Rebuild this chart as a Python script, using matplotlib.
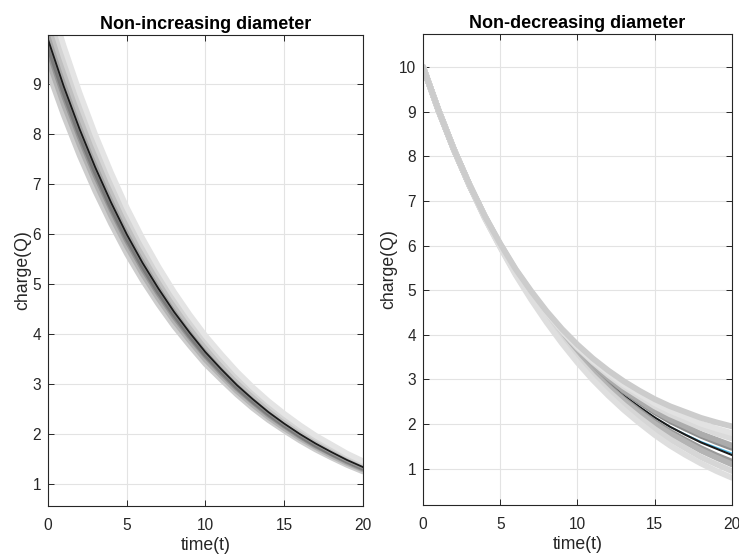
import matplotlib
matplotlib.use("Agg")
import matplotlib.pyplot as plt

plt.rcParams['font.family'] = ['Liberation Sans', 'DejaVu Sans']

t = list(range(21))

# ---- Left panel: non-increasing diameter ----
left_mean = [9.90, 8.96, 8.11, 7.34, 6.64, 6.00, 5.43, 4.92, 4.45, 4.03, 3.64,
             3.30, 2.98, 2.70, 2.44, 2.21, 2.00, 1.81, 1.64, 1.48, 1.34]
left_runs = [
    [9.26, 8.38, 7.58, 6.86, 6.21, 5.61, 5.08, 4.60, 4.16, 3.77, 3.40, 3.09, 2.79, 2.52, 2.28, 2.07, 1.87, 1.69, 1.53, 1.38, 1.25],
    [9.50, 8.60, 7.79, 7.05, 6.37, 5.76, 5.21, 4.72, 4.27, 3.87, 3.49, 3.17, 2.86, 2.59, 2.34, 2.12, 1.92, 1.74, 1.57, 1.42, 1.29],
    [9.70, 8.78, 7.95, 7.19, 6.51, 5.88, 5.32, 4.82, 4.36, 3.95, 3.57, 3.23, 2.92, 2.65, 2.39, 2.17, 1.96, 1.77, 1.61, 1.45, 1.31],
    [9.80, 8.87, 8.03, 7.27, 6.57, 5.94, 5.38, 4.87, 4.41, 3.99, 3.60, 3.27, 2.95, 2.67, 2.42, 2.19, 1.98, 1.79, 1.62, 1.47, 1.33],
    [10.00, 9.05, 8.19, 7.41, 6.71, 6.06, 5.48, 4.97, 4.49, 4.07, 3.68, 3.33, 3.01, 2.73, 2.46, 2.23, 2.02, 1.83, 1.66, 1.49, 1.35],
    [10.10, 9.14, 8.27, 7.49, 6.77, 6.12, 5.54, 5.02, 4.54, 4.11, 3.71, 3.37, 3.04, 2.75, 2.49, 2.25, 2.04, 1.85, 1.67, 1.51, 1.37],
    [10.30, 9.32, 8.43, 7.63, 6.91, 6.24, 5.65, 5.12, 4.63, 4.19, 3.79, 3.43, 3.10, 2.81, 2.54, 2.30, 2.08, 1.88, 1.71, 1.54, 1.39],
    [10.54, 9.54, 8.64, 7.82, 7.07, 6.39, 5.78, 5.24, 4.74, 4.29, 3.88, 3.51, 3.17, 2.88, 2.60, 2.35, 2.13, 1.93, 1.75, 1.58, 1.43],
    [10.79, 9.77, 8.84, 8.00, 7.24, 6.54, 5.92, 5.36, 4.85, 4.39, 3.97, 3.60, 3.25, 2.94, 2.66, 2.41, 2.18, 1.97, 1.79, 1.61, 1.46],
]
left_colors = ['#cdcdcd', '#b2b2b2', '#949494', '#7a7a7a', '#8e8e8e',
               '#a8a8a8', '#c0c0c0', '#d4d4d4', '#e4e4e4']

# ---- Right panel: non-decreasing diameter ----
right_mean = [10.00, 9.03, 8.15, 7.36, 6.64, 6.00, 5.41, 4.89, 4.41, 3.98, 3.59,
              3.24, 2.93, 2.64, 2.39, 2.15, 1.94, 1.76, 1.59, 1.45, 1.31]
right_runs = [
    [10.00, 9.03, 8.15, 7.36, 6.65, 6.01, 5.42, 4.91, 4.44, 4.03, 3.65, 3.31, 3.02, 2.74, 2.50, 2.27, 2.07, 1.90, 1.74, 1.60, 1.47],
    [10.00, 9.03, 8.15, 7.36, 6.64, 5.99, 5.40, 4.87, 4.38, 3.95, 3.54, 3.18, 2.86, 2.56, 2.30, 2.05, 1.83, 1.64, 1.46, 1.30, 1.16],
    [10.00, 9.03, 8.15, 7.36, 6.65, 6.02, 5.43, 4.92, 4.46, 4.04, 3.66, 3.33, 3.04, 2.76, 2.53, 2.30, 2.11, 1.95, 1.78, 1.65, 1.52],
    [10.00, 9.03, 8.15, 7.36, 6.63, 5.99, 5.39, 4.86, 4.37, 3.92, 3.52, 3.16, 2.83, 2.53, 2.26, 2.01, 1.79, 1.60, 1.41, 1.25, 1.10],
    [10.00, 9.03, 8.15, 7.37, 6.65, 6.02, 5.45, 4.95, 4.49, 4.08, 3.71, 3.39, 3.10, 2.84, 2.62, 2.40, 2.22, 2.07, 1.92, 1.79, 1.68],
    [10.00, 9.03, 8.15, 7.35, 6.62, 5.97, 5.37, 4.83, 4.32, 3.87, 3.46, 3.08, 2.74, 2.43, 2.15, 1.89, 1.66, 1.46, 1.26, 1.10, 0.95],
    [10.00, 9.03, 8.15, 7.37, 6.66, 6.03, 5.46, 4.96, 4.50, 4.10, 3.74, 3.42, 3.15, 2.89, 2.68, 2.47, 2.30, 2.16, 2.01, 1.90, 1.80],
    [10.00, 9.03, 8.15, 7.35, 6.61, 5.96, 5.34, 4.79, 4.28, 3.81, 3.38, 2.99, 2.64, 2.32, 2.03, 1.76, 1.52, 1.31, 1.12, 0.95, 0.80],
    [10.00, 9.03, 8.15, 7.37, 6.66, 6.04, 5.47, 4.98, 4.53, 4.13, 3.78, 3.47, 3.20, 2.96, 2.75, 2.56, 2.40, 2.27, 2.14, 2.04, 1.95],
]
right_colors = ['#8f8f8f', '#999999', '#acacac', '#b4b4b4', '#dadada',
                '#d6d6d6', '#e2e2e2', '#dedede', '#cccccc']
right_extra = [10.00, 9.03, 8.15, 7.36, 6.64, 6.00, 5.41, 4.89, 4.41, 3.98, 3.59,
               3.24, 2.93, 2.64, 2.39, 2.15, 1.94, 1.77, 1.61, 1.48, 1.35]

titles = ['Non-increasing diameter', 'Non-decreasing diameter']
xticks = [0, 5, 10, 15, 20]
left_yticks = [1, 2, 3, 4, 5, 6, 7, 8, 9]
right_yticks = [1, 2, 3, 4, 5, 6, 7, 8, 9, 10]

fig = plt.figure(figsize=(7.39, 5.55), dpi=100)
axL = fig.add_axes([0.065, 0.0883, 0.426, 0.849])
axR = fig.add_axes([0.5724, 0.0901, 0.418, 0.849])

for q, c in zip(left_runs, left_colors):
    axL.plot(t, q, color=c, lw=4.0, solid_capstyle='round')
axL.plot(t, left_mean, color='#1a1a1a', lw=1.3)

axR.plot(t, right_extra, color='#4dbeee', lw=1.0)
axR.plot(t, right_mean, color='#1a1a1a', lw=1.5)
for q, c in zip(right_runs, right_colors):
    axR.plot(t, q, color=c, lw=4.2, solid_capstyle='round')

axL.set_ylim(0.56, 9.995)
axL.set_yticks(left_yticks)
axR.set_ylim(0.19, 10.74)
axR.set_yticks(right_yticks)

for ax, title in zip([axL, axR], titles):
    ax.set_xlim(0, 20)
    ax.set_xticks(xticks)
    ax.set_title(title, fontsize=13, fontweight='bold', pad=4)
    ax.set_xlabel('time(t)', fontsize=12.7, color='#262626', labelpad=3)
    ax.set_ylabel('charge(Q)', fontsize=12.7, color='#262626', labelpad=1)
    ax.grid(True, color='#e3e3e3', lw=0.8)
    ax.set_axisbelow(True)
    ax.tick_params(direction='in', length=4, width=0.7, colors='#262626',
                   labelsize=11.2, top=True, right=True, pad=5)
    ax.tick_params(axis='x', pad=8.5)
    for s in ax.spines.values():
        s.set_color('#262626')
        s.set_linewidth(0.8)

fig.savefig('out.png', dpi=100)
